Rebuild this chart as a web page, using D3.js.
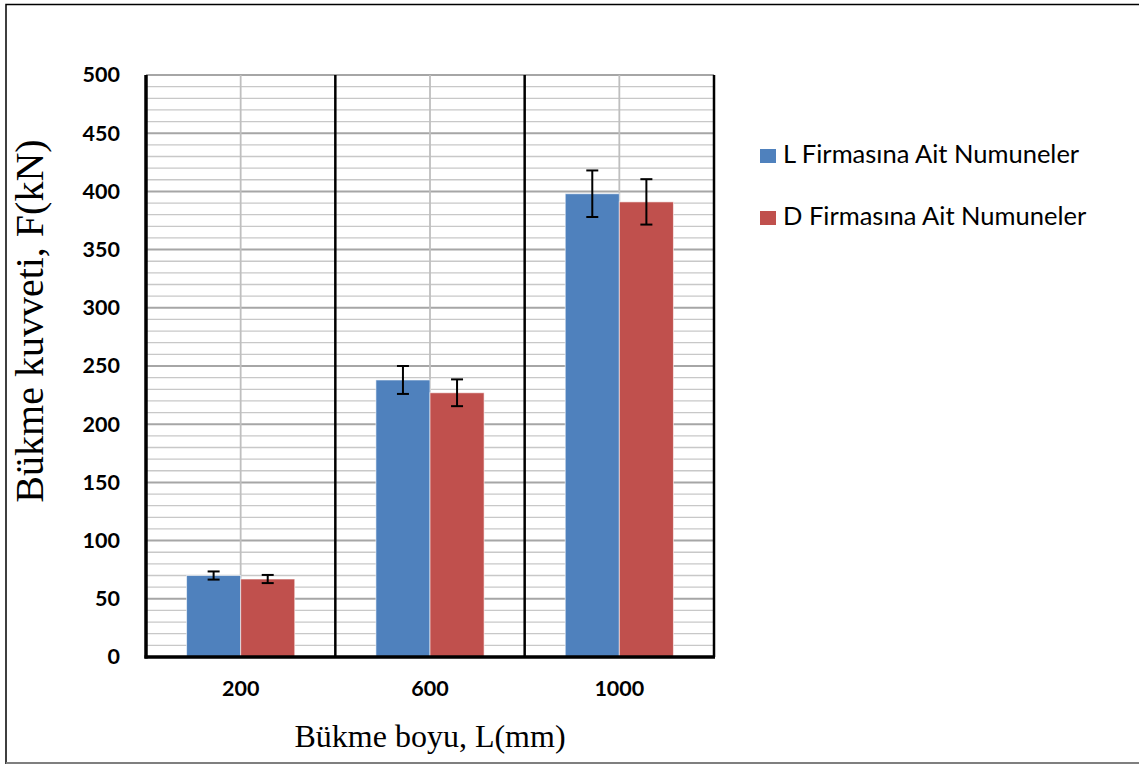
<!DOCTYPE html>
<html>
<head>
<meta charset="utf-8">
<script src="https://cdn.jsdelivr.net/npm/d3@7"></script>
<style>
  html, body { margin: 0; padding: 0; background: #fff; }
  svg { display: block; }
</style>
</head>
<body>
<svg id="chart" width="1139" height="765"></svg>
<script>
// Bending force by bending length, two suppliers, with standard-deviation error bars
const categories = ["200", "600", "1000"];
const seriesNames = ["L Firmasına Ait Numuneler", "D Firmasına Ait Numuneler"];
const valuesL = [70, 238, 398];
const valuesD = [67, 227, 391];
const errorsL = [3.5, 12, 20];
const errorsD = [3.5, 11.5, 19.5];
const yTicks = [0, 50, 100, 150, 200, 250, 300, 350, 400, 450, 500];
const colors = ["#4F81BD", "#C0504D"];

const series = [
  { name: seriesNames[0], values: valuesL, errors: errorsL, color: colors[0] },
  { name: seriesNames[1], values: valuesD, errors: errorsD, color: colors[1] }
];

const svg = d3.select("#chart");
const plotLeft = 146, plotRight = 714, plotTop = 75, plotBottom = 657;

// outer frame
svg.append("path")
  .attr("d", `M6,764 L6,4.5 L1139,4.5`)
  .attr("fill", "none").attr("stroke", "#000").attr("stroke-width", 1.5);
svg.append("line")
  .attr("x1", 6).attr("x2", 1139).attr("y1", 763).attr("y2", 763)
  .attr("stroke", "#7f7f7f").attr("stroke-width", 2);

const x = d3.scaleBand().domain(categories).range([plotLeft, plotRight]).paddingInner(0).paddingOuter(0);
const y = d3.scaleLinear().domain([0, 500]).range([plotBottom, plotTop]);

// minor horizontal grid every 10
const minor = d3.range(10, 500, 10).filter(v => v % 50 !== 0);
svg.append("g").selectAll("line").data(minor).join("line")
  .attr("x1", plotLeft).attr("x2", plotRight)
  .attr("y1", d => y(d)).attr("y2", d => y(d))
  .attr("stroke", "#c8c8c8").attr("stroke-width", 1.3);

// major horizontal grid every 50
svg.append("g").selectAll("line").data(yTicks.filter(v => v > 0)).join("line")
  .attr("x1", plotLeft).attr("x2", plotRight)
  .attr("y1", d => y(d)).attr("y2", d => y(d))
  .attr("stroke", "#a6a6a6").attr("stroke-width", 2);

// vertical gridlines at category centres
svg.append("g").selectAll("line").data(categories).join("line")
  .attr("x1", d => x(d) + x.bandwidth() / 2).attr("x2", d => x(d) + x.bandwidth() / 2)
  .attr("y1", plotTop).attr("y2", plotBottom)
  .attr("stroke", "#bfbfbf").attr("stroke-width", 1.8);

// black separators at category boundaries
svg.append("g").selectAll("line").data(categories).join("line")
  .attr("x1", d => x(d) + x.bandwidth()).attr("x2", d => x(d) + x.bandwidth())
  .attr("y1", plotTop).attr("y2", plotBottom)
  .attr("stroke", "#000").attr("stroke-width", 2.5);

// bars
const xs = d3.scaleBand().domain(seriesNames).range([0, x.bandwidth()]).paddingOuter(0.75).paddingInner(0);
series.forEach(s => {
  svg.append("g").selectAll("rect").data(categories).join("rect")
    .attr("x", (d) => x(d) + xs(s.name))
    .attr("width", xs.bandwidth())
    .attr("y", (d, i) => y(s.values[i]))
    .attr("height", (d, i) => y(0) - y(s.values[i]))
    .attr("fill", s.color)
    .attr("stroke", "#ffffff").attr("stroke-opacity", 0.6).attr("stroke-width", 1);
});

// error bars
series.forEach(s => {
  const g = svg.append("g").attr("stroke", "#000").attr("stroke-width", 2);
  categories.forEach((c, i) => {
    const cx = x(c) + xs(s.name) + xs.bandwidth() / 2;
    const hi = y(s.values[i] + s.errors[i]);
    const lo = y(s.values[i] - s.errors[i]);
    g.append("line").attr("x1", cx).attr("x2", cx).attr("y1", hi).attr("y2", lo);
    g.append("line").attr("x1", cx - 6).attr("x2", cx + 6).attr("y1", hi).attr("y2", hi);
    g.append("line").attr("x1", cx - 6).attr("x2", cx + 6).attr("y1", lo).attr("y2", lo);
  });
});

// axes lines
svg.append("line").attr("x1", plotLeft).attr("x2", plotLeft).attr("y1", plotTop).attr("y2", plotBottom + 1.5)
  .attr("stroke", "#000").attr("stroke-width", 3.5);
svg.append("line").attr("x1", plotLeft - 1.5).attr("x2", plotRight + 1).attr("y1", plotBottom).attr("y2", plotBottom)
  .attr("stroke", "#000").attr("stroke-width", 3.5);

// y axis labels
const yAxis = d3.axisLeft(y).tickValues(yTicks).tickSize(0).tickPadding(26);
const ya = svg.append("g").attr("transform", `translate(${plotLeft},0)`).call(yAxis);
ya.select(".domain").remove();
ya.selectAll("text")
  .attr("font-family", "Lato, 'Open Sans', sans-serif")
  .attr("font-weight", "bold").attr("font-size", 21.5).attr("fill", "#000");

// x axis labels
const xAxis = d3.axisBottom(x).tickSize(0).tickPadding(24);
const xa = svg.append("g").attr("transform", `translate(0,${plotBottom})`).call(xAxis);
xa.select(".domain").remove();
xa.selectAll("text")
  .attr("font-family", "Lato, 'Open Sans', sans-serif")
  .attr("font-weight", "bold").attr("font-size", 21.5).attr("fill", "#000");

// axis titles
svg.append("text")
  .attr("x", (plotLeft + plotRight) / 2).attr("y", 747)
  .attr("text-anchor", "middle")
  .attr("font-family", "'Liberation Serif', 'Times New Roman', serif")
  .attr("font-size", 32).attr("fill", "#000")
  .text("Bükme boyu, L(mm)");

svg.append("text")
  .attr("transform", "translate(43,321) rotate(-90)")
  .attr("text-anchor", "middle")
  .attr("font-family", "'Liberation Serif', 'Times New Roman', serif")
  .attr("font-size", 40).attr("fill", "#000")
  .text("Bükme kuvveti, F(kN)");

// legend
const legend = svg.append("g");
series.forEach((s, i) => {
  const ly = 155 + i * 62;
  legend.append("rect").attr("x", 760).attr("y", ly - 6).attr("width", 16).attr("height", 14).attr("fill", s.color);
  legend.append("text").attr("x", 783).attr("y", ly + 8)
    .attr("font-family", "Lato, 'Open Sans', sans-serif")
    .attr("font-size", 25.5).attr("fill", "#000")
    .text(s.name);
});
</script>
</body>
</html>
